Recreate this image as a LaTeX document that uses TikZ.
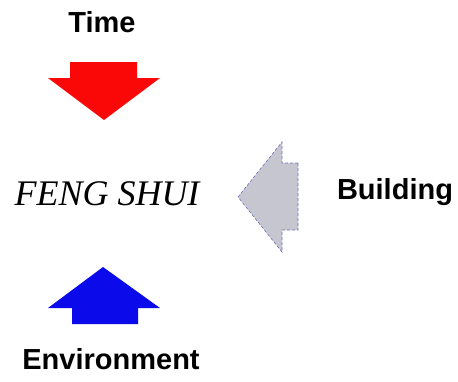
\documentclass[tikz,border=0pt]{standalone}
\usepackage{fontspec}
\setmainfont{Liberation Sans}
\newfontfamily\serifit{Liberation Serif}
\usepackage{tikz}

\definecolor{rouge}{RGB}{250,8,8}
\definecolor{bleu}{RGB}{10,10,235}
\definecolor{gris}{RGB}{198,198,208}
\definecolor{bord}{RGB}{120,110,190}

\begin{document}
\begin{tikzpicture}[x=1pt, y=-1pt,
  etiquette/.style={inner sep=0pt, font=\fontsize{29}{29}\selectfont\bfseries}]

\useasboundingbox (0,0) rectangle (458,381);

% Le titre au centre
\node[inner sep=0pt, font=\fontsize{36}{36}\selectfont\serifit\itshape] (FS) at (107,194) {FENG SHUI};

% Les étiquettes
\node[etiquette] (T) at (102,22) {Time};
\node[etiquette] (B) at (395,192) {Building};
\node[etiquette] (E) at (111,359) {Environment};

% Flèche rouge (vers le bas)
\fill[rouge] (70,62) -- (137,62) -- (137,78) -- (160,78) -- (104,120)
  -- (48,78) -- (70,78) -- cycle;

% Flèche grise (vers la gauche)
\filldraw[fill=gris, draw=bord, densely dashed, line width=0.6pt]
  (298,163) -- (298,230) -- (282,230) -- (282,252) -- (238,197)
  -- (282,142) -- (282,163) -- cycle;

% Flèche bleue (vers le haut)
\fill[bleu] (72,324) -- (138,324) -- (138,308) -- (160,308) -- (103,267)
  -- (48,308) -- (72,308) -- cycle;

\end{tikzpicture}
\end{document}
